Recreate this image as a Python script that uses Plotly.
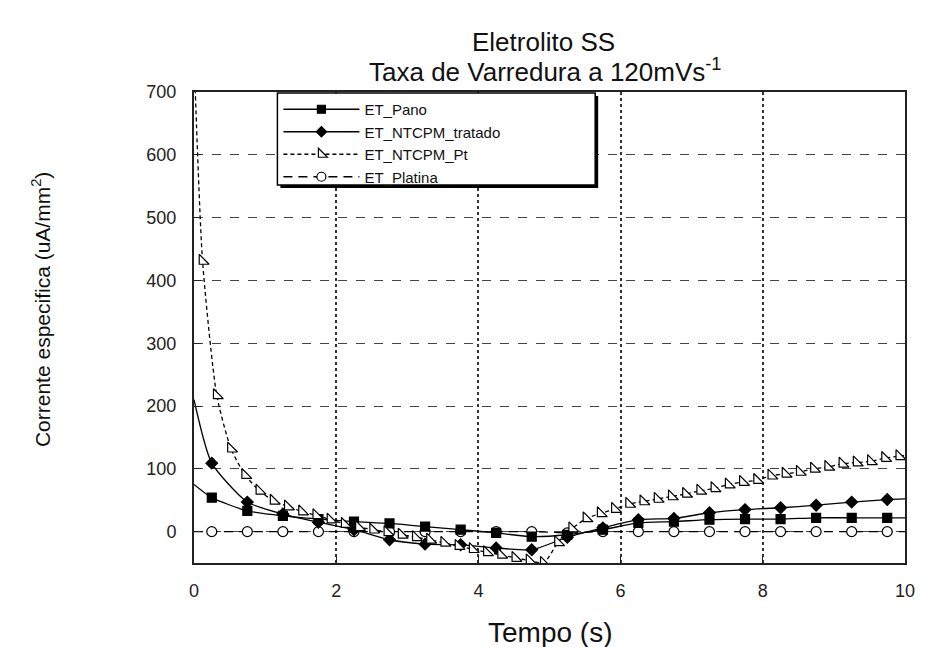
import plotly.graph_objects as go

# ---- data ----
tempo = [0, 0.25, 0.75, 1.25, 1.75, 2.25, 2.75, 3.25, 3.75, 4.25, 4.75,
         5.25, 5.75, 6.25, 6.75, 7.25, 7.75, 8.25, 8.75, 9.25, 9.75, 10]
et_pano = [75, 54, 33, 25, 20, 16, 13, 8, 3, -2, -8,
           -5, 3, 14, 16, 19, 20, 20, 22, 22, 22, 22]
et_tratado = [210, 109, 47, 28, 15, 3, -13, -20, -21, -26, -29,
              -9, 6, 19, 21, 30, 35, 38, 42, 47, 51, 52]
et_platina = [0, 0, 0, 0, 0, 0, 0, 0, 0, 0, 0,
              -2, 0, 0, 0, 0, 0, 0, 0, 0, 0, 0]
# marker shown on each sample (False = line point only)
marcador = [False] + [True] * 20 + [False]

tempo_pt = [0.0, 0.12, 0.32, 0.52, 0.72, 0.92, 1.12, 1.32, 1.52, 1.72, 1.92,
            2.12, 2.32, 2.52, 2.72, 2.92, 3.12, 3.32, 3.52, 3.72, 3.92,
            4.12, 4.32, 4.52, 4.72, 4.92, 5.12, 5.32, 5.52, 5.72, 5.92,
            6.12, 6.32, 6.52, 6.72, 6.92, 7.12, 7.32, 7.52, 7.72, 7.92,
            8.12, 8.32, 8.52, 8.72, 8.92, 9.12, 9.32, 9.52, 9.72, 9.92, 10.0]
et_ntcpm_pt = [760, 431, 217, 132, 90, 65, 49, 40, 32, 26, 19,
               12, 7, 3, -1, -5, -9, -13, -18, -23, -28,
               -33, -37, -42, -46, -50, -17, 5, 21, 29, 36,
               44, 48, 52, 56, 60, 65, 69, 75, 79, 82,
               89, 92, 95, 100, 103, 108, 110, 112, 117, 120, 121]
marcador_pt = [False] + [True] * 50 + [False]

x_ticks = [0, 2, 4, 6, 8, 10]
y_ticks = [0, 100, 200, 300, 400, 500, 600, 700]

titulo1 = "Eletrolito SS"
titulo2 = "Taxa de Varredura a 120mVs<sup>-1</sup>"
x_titulo = "Tempo (s)"
y_titulo = "Corrente especifica (uA/mm<sup>2</sup>)"

series = [
    dict(name="ET_Pano", x=tempo, y=et_pano, m=marcador,
         dash="solid", symbol="square", fill="black", size=9),
    dict(name="ET_NTCPM_tratado", x=tempo, y=et_tratado, m=marcador,
         dash="solid", symbol="diamond", fill="black", size=9),
    dict(name="ET_NTCPM_Pt", x=tempo_pt, y=et_ntcpm_pt, m=marcador_pt,
         dash="4px,3px", symbol="triangle-sw", fill="white", size=11),
    dict(name="ET_Platina", x=tempo, y=et_platina, m=marcador,
         dash="9px,6px", symbol="circle", fill="white", size=10),
]

fig = go.Figure()
draw_order = [3, 0, 1, 2]
for i in draw_order:
    s = series[i]
    fig.add_trace(go.Scatter(
        x=s["x"], y=s["y"], mode="lines", showlegend=False,
        line=dict(color="black", width=1.3, dash=s["dash"], shape="spline", smoothing=0.6),
        hoverinfo="skip"))
for i in draw_order:
    s = series[i]
    mx = [xv for xv, k in zip(s["x"], s["m"]) if k]
    my = [yv for yv, k in zip(s["y"], s["m"]) if k]
    fig.add_trace(go.Scatter(
        x=mx, y=my, mode="markers", showlegend=False,
        marker=dict(symbol=s["symbol"], size=s["size"], color=s["fill"],
                    line=dict(color="black", width=1.2))))
for s in series:
    fig.add_trace(go.Scatter(
        x=[None], y=[None], mode="lines+markers", name=s["name"],
        line=dict(color="black", width=1.3, dash=s["dash"]),
        marker=dict(symbol=s["symbol"], size=s["size"] - 1, color=s["fill"],
                    line=dict(color="black", width=1.2))))

font_main = "Liberation Sans, Arial, Helvetica, sans-serif"
L, R, T, B = 194, 17, 92, 84
W, Hh = 927, 647
PW, PH = W - L - R, Hh - T - B


def px_x(px):
    return (px - L) / PW


def px_y(py):
    return (Hh - B - py) / PH


fig.update_layout(
    width=W, height=Hh,
    margin=dict(l=L, r=R, t=T, b=B),
    paper_bgcolor="white", plot_bgcolor="white",
    font=dict(family=font_main, color="#111111", size=16),
    showlegend=True,
    legend=dict(x=px_x(279), y=px_y(93), xanchor="left", yanchor="top",
                bgcolor="rgba(0,0,0,0)", borderwidth=0,
                font=dict(size=15, family=font_main, color="#111111"),
                tracegroupgap=0, itemwidth=76),
    xaxis=dict(range=[0, 10], tickvals=x_ticks, ticks="inside", ticklen=7,
               tickcolor="#222", showline=True, linecolor="#222", linewidth=2,
               mirror=True, showgrid=True, gridcolor="#333", gridwidth=1.5,
               griddash="dot", zeroline=False, ticklabelstandoff=10,
               tickfont=dict(size=18, family=font_main, color="#222")),
    yaxis=dict(range=[-50, 700], tickvals=y_ticks, ticks="inside", ticklen=7,
               tickcolor="#222", showline=True, linecolor="#222", linewidth=2,
               mirror=True, showgrid=True, gridcolor="#444", gridwidth=1,
               griddash="dash", zeroline=False, ticklabelstandoff=12,
               tickfont=dict(size=18, family=font_main, color="#222")),
    shapes=[
        dict(type="rect", xref="paper", yref="paper", layer="above",
             x0=px_x(281), x1=px_x(601), y0=px_y(188), y1=px_y(96),
             fillcolor="black", line=dict(width=0)),
        dict(type="rect", xref="paper", yref="paper", layer="above",
             x0=px_x(278), x1=px_x(598), y0=px_y(185), y1=px_y(93),
             fillcolor="white", line=dict(color="black", width=1.5)),
    ],
    annotations=[
        dict(text=titulo1, x=px_x(546), y=px_y(42), xref="paper", yref="paper",
             showarrow=False, xanchor="center", yanchor="middle",
             font=dict(size=26, family=font_main, color="#111")),
        dict(text=titulo2, x=px_x(547), y=px_y(70), xref="paper", yref="paper",
             showarrow=False, xanchor="center", yanchor="middle",
             font=dict(size=26, family=font_main, color="#111")),
        dict(text=x_titulo, x=px_x(553), y=px_y(632), xref="paper", yref="paper",
             showarrow=False, xanchor="center", yanchor="middle",
             font=dict(size=28, family=font_main, color="#111")),
        dict(text=y_titulo, x=px_x(40), y=px_y(310), xref="paper", yref="paper",
             showarrow=False, xanchor="center", yanchor="middle", textangle=-90,
             font=dict(size=21, family=font_main, color="#111")),
    ],
)

fig.write_html("out.html")
